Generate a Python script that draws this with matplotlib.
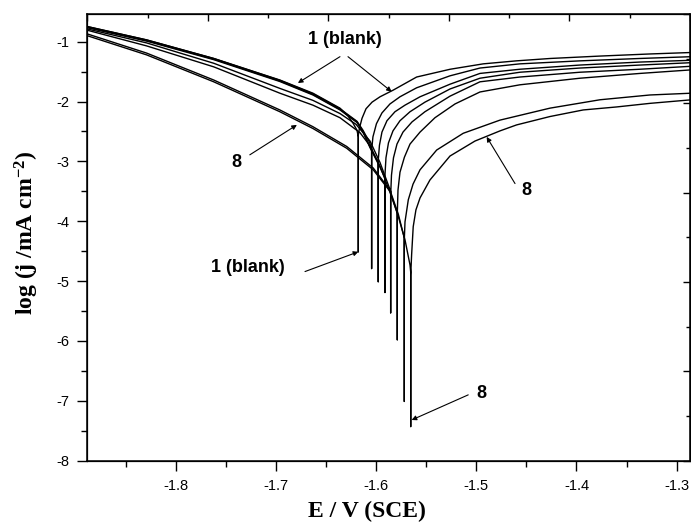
import matplotlib
matplotlib.use('Agg')
import matplotlib.pyplot as plt
from matplotlib.ticker import MultipleLocator, FuncFormatter

plt.rcParams['font.family'] = ['Liberation Sans', 'DejaVu Sans']
plt.rcParams['axes.unicode_minus'] = False
plt.rcParams['mathtext.fontset'] = 'custom'
plt.rcParams['mathtext.rm'] = 'Liberation Serif:bold'
plt.rcParams['mathtext.bf'] = 'Liberation Serif:bold'
plt.rcParams['mathtext.it'] = 'Liberation Serif:bold'

# polarization curves, E / V (SCE) vs log j
# 1 = blank ... 8 = highest concentration
e1 = [-1.89, -1.829, -1.762, -1.696, -1.663, -1.636, -1.628, -1.623, -1.619, -1.6177, -1.6177, -1.6177,
      -1.6165, -1.614, -1.610, -1.604, -1.596, -1.583, -1.5595, -1.526, -1.493, -1.460, -1.426, -1.3765, -1.327, -1.285]
j1 = [-0.74, -0.97, -1.28, -1.64, -1.86, -2.11, -2.24, -2.36, -2.48, -2.59, -4.51, -2.56,
      -2.44, -2.28, -2.12, -2.01, -1.92, -1.81, -1.59, -1.46, -1.37, -1.32, -1.28, -1.24, -1.205, -1.18]

e2 = [-1.89, -1.829, -1.762, -1.696, -1.663, -1.636, -1.619, -1.613, -1.6065, -1.6044, -1.6044, -1.6044,
      -1.6031, -1.5996, -1.5941, -1.5861, -1.5761, -1.5595, -1.5262, -1.4963, -1.4564, -1.3965, -1.3366, -1.285]
j2 = [-0.74, -0.97, -1.28, -1.645, -1.87, -2.12, -2.33, -2.48, -2.68, -2.80, -4.79, -2.81,
      -2.59, -2.37, -2.19, -2.04, -1.92, -1.77, -1.57, -1.44, -1.37, -1.32, -1.28, -1.25]

e3 = [-1.89, -1.829, -1.762, -1.696, -1.663, -1.636, -1.619, -1.613, -1.606, -1.600, -1.5978, -1.5978, -1.5978,
      -1.5966, -1.5941, -1.5891, -1.5811, -1.5711, -1.5561, -1.5262, -1.4963, -1.4564, -1.3965, -1.3366, -1.285]
j3 = [-0.75, -0.98, -1.29, -1.655, -1.88, -2.13, -2.34, -2.50, -2.76, -2.95, -3.02, -5.01, -2.98,
      -2.73, -2.51, -2.32, -2.17, -2.06, -1.92, -1.71, -1.53, -1.46, -1.39, -1.34, -1.31]

e4 = [-1.89, -1.829, -1.762, -1.696, -1.663, -1.636, -1.619, -1.613, -1.606, -1.596, -1.5911, -1.5911, -1.5911,
      -1.5901, -1.5876, -1.5831, -1.5761, -1.5661, -1.5512, -1.5262, -1.4963, -1.4564, -1.3965, -1.3366, -1.285]
j4 = [-0.76, -0.99, -1.30, -1.665, -1.89, -2.14, -2.35, -2.51, -2.77, -3.10, -3.28, -5.19, -3.23,
      -2.94, -2.69, -2.49, -2.32, -2.17, -2.01, -1.79, -1.61, -1.51, -1.44, -1.39, -1.35]

e5 = [-1.89, -1.829, -1.762, -1.696, -1.663, -1.636, -1.620, -1.606, -1.596, -1.5854, -1.5854, -1.5854,
      -1.5846, -1.5826, -1.5791, -1.5731, -1.5641, -1.5512, -1.5262, -1.4963, -1.4564, -1.3965, -1.3366, -1.285]
j5 = [-0.78, -1.02, -1.36, -1.78, -1.98, -2.20, -2.38, -2.66, -3.02, -3.50, -5.53, -3.56,
      -3.23, -2.94, -2.71, -2.51, -2.34, -2.17, -1.91, -1.67, -1.59, -1.51, -1.46, -1.41]

e6 = [-1.89, -1.829, -1.762, -1.696, -1.663, -1.636, -1.616, -1.606, -1.596, -1.586, -1.5788, -1.5788, -1.5788,
      -1.5781, -1.5761, -1.5717, -1.5661, -1.5561, -1.5412, -1.5212, -1.4963, -1.4564, -1.3965, -1.3366, -1.285]
j6 = [-0.80, -1.07, -1.42, -1.86, -2.06, -2.27, -2.52, -2.74, -3.08, -3.52, -3.86, -5.98, -3.88,
      -3.48, -3.18, -2.93, -2.71, -2.51, -2.27, -2.04, -1.84, -1.72, -1.61, -1.53, -1.47]

e7 = [-1.89, -1.829, -1.762, -1.696, -1.663, -1.6293, -1.6028, -1.5861, -1.5778, -1.5718, -1.5718, -1.5718,
      -1.5711, -1.5678, -1.5631, -1.5561, -1.5395, -1.5130, -1.4763, -1.4264, -1.3765, -1.3266, -1.285]
j7 = [-0.86, -1.19, -1.64, -2.14, -2.42, -2.75, -3.11, -3.48, -3.88, -4.28, -7.01, -4.31,
      -4.01, -3.64, -3.38, -3.14, -2.81, -2.53, -2.31, -2.11, -1.97, -1.89, -1.86]

e8 = [-1.89, -1.829, -1.762, -1.696, -1.663, -1.6293, -1.6028, -1.5861, -1.5778, -1.5711, -1.5661, -1.5654,
      -1.5654, -1.5654, -1.5645, -1.5629, -1.5602, -1.5561, -1.5462, -1.5262, -1.5013, -1.4763, -1.4597,
      -1.4264, -1.3932, -1.3599, -1.3266, -1.285]
j8 = [-0.89, -1.22, -1.67, -2.17, -2.45, -2.78, -3.14, -3.50, -3.92, -4.31, -4.73, -4.85,
      -7.43, -4.90, -4.56, -4.09, -3.81, -3.61, -3.31, -2.91, -2.66, -2.49, -2.39,
      -2.25, -2.14, -2.09, -2.03, -1.97]

curves = [(e1, j1), (e2, j2), (e3, j3), (e4, j4), (e5, j5), (e6, j6), (e7, j7), (e8, j8)]

fig = plt.figure(figsize=(6.91, 5.24), dpi=100)
ax = fig.add_axes([0.1263, 0.1208, 0.8722, 0.8525])

for e, j in curves:
    ax.plot(e, j, color='black', lw=1.0)

ax.set_xlim(-1.8882, -1.2867)
ax.set_ylim(-8, -0.537)

fmt = FuncFormatter(lambda v, p: '%g' % round(v, 2))
ax.xaxis.set_major_locator(MultipleLocator(0.1))
ax.xaxis.set_minor_locator(MultipleLocator(0.05))
ax.yaxis.set_major_locator(MultipleLocator(1))
ax.yaxis.set_minor_locator(MultipleLocator(0.5))
ax.xaxis.set_major_formatter(fmt)
ax.yaxis.set_major_formatter(fmt)
ax.tick_params(which='major', direction='out', length=7, width=1, labelsize=10.5, pad=6)
ax.tick_params(which='minor', direction='out', length=4, width=1)
for s in ax.spines.values():
    s.set_linewidth(1.1)

# Origin style mirror axes on top/right, no labels
axt = ax.twiny()
axt.set_xlim(0, 10)
axt.xaxis.set_major_locator(MultipleLocator(2))
axt.xaxis.set_minor_locator(MultipleLocator(1))
axt.tick_params(which='major', direction='in', length=5, width=1, labeltop=False)
axt.tick_params(which='minor', direction='in', length=3, width=1)
axr = ax.twinx()
axr.set_ylim(0, 10)
axr.yaxis.set_major_locator(MultipleLocator(2))
axr.yaxis.set_minor_locator(MultipleLocator(1))
axr.tick_params(which='major', direction='in', length=5, width=1, labelright=False)
axr.tick_params(which='minor', direction='in', length=3, width=1)

fig.text(0.531, 0.023, 'E / V (SCE)', family='Liberation Serif', weight='bold',
         fontsize=17, ha='center', va='center')
fig.text(0.039, 0.555, r'log (j /mA cm$^{-2}$)', family='Liberation Serif', weight='bold',
         fontsize=17, ha='center', va='center', rotation=90)

arr = dict(arrowstyle='-|>', lw=0.8, color='black', mutation_scale=7, shrinkA=0, shrinkB=0)
lab = dict(fontsize=13, weight='bold', ha='center', va='center')

ax.text(-1.631, -0.97, '1 (blank)', **lab)
ax.annotate('', xy=(-1.678, -1.69), xytext=(-1.636, -1.25), arrowprops=arr)
ax.annotate('', xy=(-1.5844, -1.835), xytext=(-1.628, -1.25), arrowprops=arr)

ax.text(-1.739, -3.01, '8', **lab)
ax.annotate('', xy=(-1.679, -2.39), xytext=(-1.726, -2.89), arrowprops=arr)

ax.text(-1.4497, -3.48, '8', **lab)
ax.annotate('', xy=(-1.4896, -2.59), xytext=(-1.4613, -3.37), arrowprops=arr)

ax.text(-1.7278, -4.78, '1 (blank)', **lab)
ax.annotate('', xy=(-1.6177, -4.51), xytext=(-1.6709, -4.84), arrowprops=arr)

ax.text(-1.4946, -6.87, '8', **lab)
ax.annotate('', xy=(-1.5645, -7.32), xytext=(-1.508, -6.90), arrowprops=arr)

fig.savefig('out.png', dpi=100)
